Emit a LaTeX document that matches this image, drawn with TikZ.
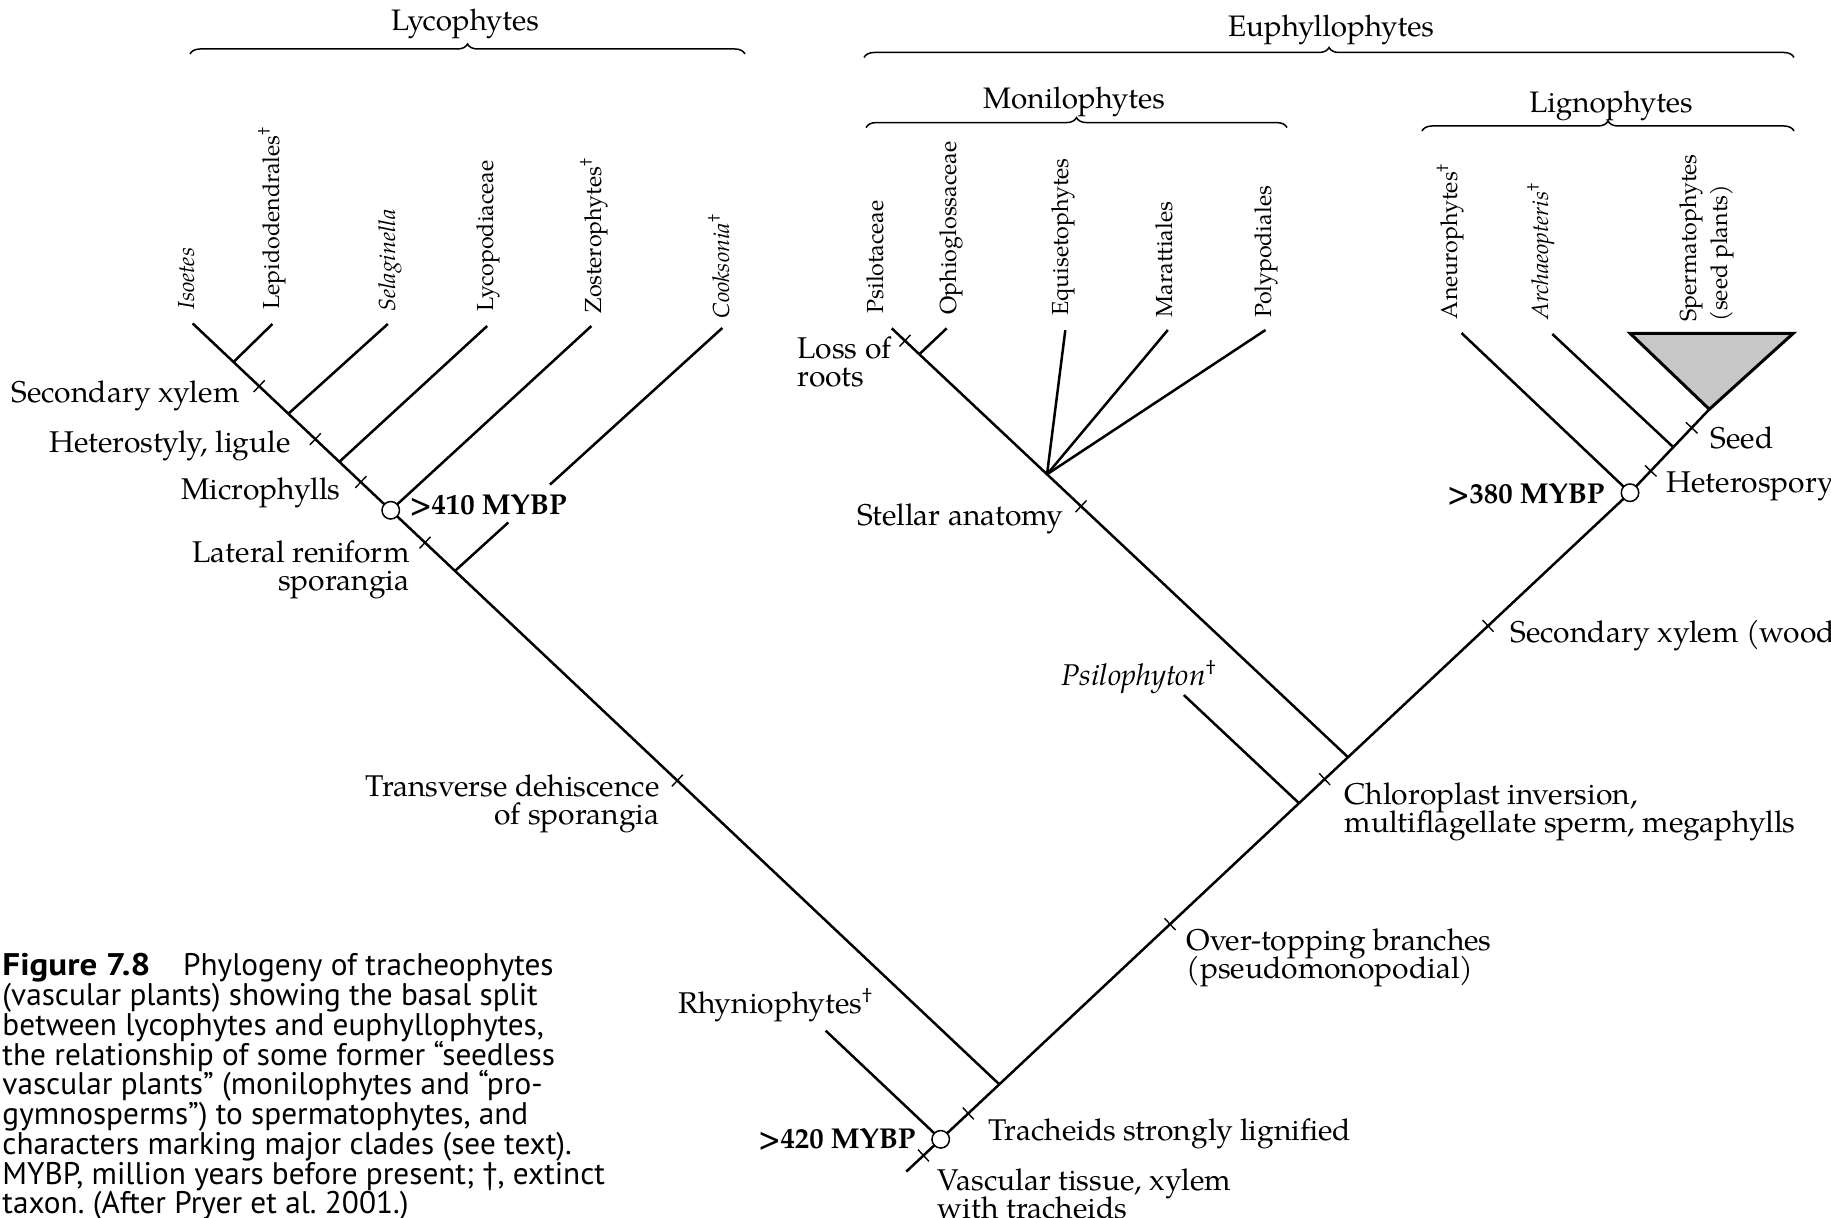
\documentclass[tikz,border=0pt]{standalone}
\usepackage{fontspec}
\setmainfont{TeX Gyre Pagella}
\newfontfamily\capfont{PT Sans}
\usetikzlibrary{calc,decorations.pathreplacing}

% short character mark across the branch from #1 to #2, at fraction #3
\newcommand\drawtick[3]{%
  \coordinate (tk) at ($(#1)!#3!(#2)$);
  \draw[tickmark] ($(tk)!3.2pt!90:(#2)$) -- ($(tk)!3.2pt!-90:(#2)$);
}
% keep a fixed line pitch in multi-line labels
\newcommand\fixedlead{\lineskiplimit -\maxdimen\relax\lineskip 0pt\relax}

\begin{document}
\begin{tikzpicture}[x=0.4pt,y=-0.4pt,
  branch/.style={line width=1pt},
  tickmark/.style={line width=0.55pt},
  mybp/.style={draw, circle, fill=white, line width=0.6pt, minimum size=7pt, inner sep=0pt},
  taxon/.style={rotate=90, anchor=west, inner sep=0pt, font=\fontsize{9.3}{12.5}\selectfont, text height=0.72em, text depth=0.22em},
  taxon2/.style={rotate=90, anchor=west, inner sep=0pt, align=left, font=\fontsize{9.3}{12.5}\selectfont},
  charlabel/.style={inner sep=0pt, font=\fontsize{12}{11.3}\selectfont, text height=0.7em, text depth=0.25em},
  mcharlabel/.style={inner sep=0pt, font=\fontsize{12}{11.3}\selectfont\fixedlead},
  clade/.style={inner sep=0pt, font=\fontsize{11.85}{13}\selectfont, text height=0.7em, text depth=0.25em},
  cladebrace/.style={decorate, decoration={brace, amplitude=4pt}, line width=0.6pt},
  age/.style={inner sep=0pt, font=\fontsize{11.5}{13}\selectfont\bfseries},
]
\useasboundingbox (0,0) rectangle (1831,1218);
\clip (0,0) rectangle (1831,1218);

% ---------- clade braces ----------
\draw[cladebrace] (190,54) -- (745,54);
\draw[cladebrace] (864,57.5) -- (1794,57.5);
\draw[cladebrace] (866,127.6) -- (1287,127.6);
\draw[cladebrace] (1422,131) -- (1794,131);
\node[clade] (cLyc) at (465,25) {Lycophytes};
\node[clade] (cEup) at (1331,30.5) {Euphyllophytes};
\node[clade] (cMon) at (1074,102.5) {Monilophytes};
\node[clade] (cLig) at (1611,107) {Lignophytes};

% ---------- backbone coordinates ----------
\coordinate (Liso) at (192.7,323.5);
\coordinate (C420pt) at (940.7,1139.3);
\coordinate (C380pt) at (1630,492.7);
\coordinate (Apex) at (1709.3,409.3);
\coordinate (Root) at ($(C420pt)!-0.05!(C380pt)$);
\coordinate (J1) at ($(C420pt)!0.085!(C380pt)$);
\coordinate (J2) at ($(C420pt)!0.5198!(C380pt)$);
\coordinate (J3) at ($(C420pt)!0.5909!(C380pt)$);
\coordinate (J5) at ($(C380pt)!0.546!(Apex)$);

% lycophyte branch points
\coordinate (LjLep) at ($(Liso)!0.0506!(J1)$);
\coordinate (LjSel) at ($(Liso)!0.1186!(J1)$);
\coordinate (LjLyc) at ($(Liso)!0.1818!(J1)$);
\coordinate (C410pt) at ($(Liso)!0.2455!(J1)$);
\coordinate (LjCoo) at ($(Liso)!0.3252!(J1)$);

% tips
\coordinate (tipLep) at (272.4,324);
\coordinate (tipSel) at (387.8,324);
\coordinate (tipLyc) at (487.2,326);
\coordinate (tipZos) at (591.4,326);
\coordinate (tipCoo) at (722.3,328);
\coordinate (tipRhy) at (825.7,1030.7);
\coordinate (tipPsl) at (891.7,328.3);
\coordinate (tipOph) at (946.7,328.3);
\coordinate (tipEqu) at (1065.3,330.2);
\coordinate (tipMar) at (1167.8,330);
\coordinate (tipPol) at (1265.5,330);
\coordinate (tipPsi) at (1183.8,695);
\coordinate (tipAne) at (1461.5,333);
\coordinate (tipArc) at (1552.3,334);
\coordinate (sTL) at (1630,333.3);
\coordinate (sTR) at (1793.3,333.3);

% monilophyte branch points
\coordinate (MjOph) at ($(tipPsl)!0.0605!(J3)$);
\coordinate (Mpoly) at ($(tipPsl)!0.3404!(J3)$);

% ---------- branches ----------
\draw[branch] (Liso) -- (J1);
\draw[branch] (Root) -- (C380pt) -- (Apex);
\draw[branch] (tipRhy) -- (C420pt);
\draw[branch] (tipLep) -- (LjLep);
\draw[branch] (tipSel) -- (LjSel);
\draw[branch] (tipLyc) -- (LjLyc);
\draw[branch] (tipZos) -- (C410pt);
\draw[branch] (tipCoo) -- ($(tipCoo)!0.6446!(LjCoo)$);
\draw[branch] ($(tipCoo)!0.8006!(LjCoo)$) -- (LjCoo);
\draw[branch] (tipPsl) -- (J3);
\draw[branch] (tipOph) -- (MjOph);
\draw[branch] (tipEqu) -- (Mpoly);
\draw[branch] (tipMar) -- (Mpoly);
\draw[branch] (tipPol) -- (Mpoly);
\draw[branch] (tipPsi) -- (J2);
\draw[branch] (tipAne) -- (C380pt);
\draw[branch] (tipArc) -- (J5);
\draw[line width=1.2pt, fill=black!22, line join=miter] (Apex) -- (sTL) -- (sTR) -- cycle;

% ---------- character marks ----------
\drawtick{Liso}{J1}{0.0824}
\drawtick{Liso}{J1}{0.152}
\drawtick{Liso}{J1}{0.2084}
\drawtick{Liso}{J1}{0.288}
\drawtick{Liso}{J1}{0.6008}
\drawtick{C420pt}{C380pt}{-0.025}
\drawtick{C420pt}{C380pt}{0.040}
\drawtick{C420pt}{C380pt}{0.3327}
\drawtick{C420pt}{C380pt}{0.557}
\drawtick{C420pt}{C380pt}{0.794}
\drawtick{tipPsl}{J3}{0.029}
\drawtick{tipPsl}{J3}{0.4149}
\drawtick{C380pt}{Apex}{0.261}
\drawtick{C380pt}{Apex}{0.778}

% ---------- dated nodes ----------
\node[mybp] (n410) at (C410pt) {};
\node[mybp] (n420) at (C420pt) {};
\node[mybp] (n380) at (C380pt) {};

% ---------- taxon names ----------
\node[taxon] (tIso) at (188,310) {\textit{Isoetes}};
\node[taxon] (tLep) at (273,310) {Lepidodendrales\textsuperscript{\textdagger}};
\node[taxon] (tSel) at (389,312) {\textit{Selaginella}};
\node[taxon] (tLyc) at (487,312) {Lycopodiaceae};
\node[taxon] (tZos) at (595,314) {Zosterophytes\textsuperscript{\textdagger}};
\node[taxon] (tCoo) at (723,319) {\textit{Cooksonia}\textsuperscript{\textdagger}};
\node[taxon] (tPsl) at (877.5,314) {Psilotaceae};
\node[taxon] (tOph) at (950,315) {Ophioglossaceae};
\node[taxon] (tEqu) at (1062.6,316) {Equisetophytes};
\node[taxon] (tMar) at (1166.4,317.5) {Marattiales};
\node[taxon] (tPol) at (1265.5,318) {Polypodiales};
\node[taxon] (tAne) at (1451.3,319.5) {Aneurophytes\textsuperscript{\textdagger}};
\node[taxon] (tArc) at (1542,320) {\textit{Archaeopteris}\textsuperscript{\textdagger}};
\node[taxon2] (tSpe) at (1707,322) {Spermatophytes\\(seed plants)};

% ---------- characters and ages ----------
\node[charlabel, anchor=east] (lSecX) at (240,397) {Secondary xylem};
\node[charlabel, anchor=east] (lHet) at (291,447) {Heterostyly, ligule};
\node[charlabel, anchor=east] (lMic) at (341,494) {Microphylls};
\node[mcharlabel, anchor=east, align=right] (lLat) at (410,570) {Lateral reniform\\sporangia};
\node[mcharlabel, anchor=east, align=right] (lTra) at (660,804) {Transverse dehiscence\\of sporangia};
\node[age, anchor=west] (a410) at (409,505) {>410 MYBP};
\node[charlabel, anchor=west] (lRhy) at (678,1008) {Rhyniophytes\textsuperscript{\textdagger}};
\node[age, anchor=east] (a420) at (916,1139) {>420 MYBP};
\node[charlabel, anchor=west] (lTrac) at (988,1135) {Tracheids strongly lignified};
\node[mcharlabel, anchor=west, align=left] (lVas) at (937,1194) {Vascular tissue, xylem\\with tracheids};
\node[mcharlabel, anchor=west, align=left] (lOver) at (1186,958) {Over-topping branches\\(pseudomonopodial)};
\node[mcharlabel, anchor=west, align=left] (lChl) at (1344,812) {Chloroplast inversion,\\multiflagellate sperm, megaphylls};
\node[charlabel, anchor=west] (lPsi) at (1061,680) {\textit{Psilophyton}\textsuperscript{\textdagger}};
\node[charlabel, anchor=west] (lSecW) at (1510,637) {Secondary xylem (wood)};
\node[charlabel, anchor=east] (lSte) at (1064,520) {Stellar anatomy};
\node[mcharlabel, anchor=west, align=left] (lLoss) at (797,362) {Loss of\\roots};
\node[age, anchor=east] (a380) at (1605,494) {>380 MYBP};
\node[charlabel, anchor=west] (lHsp) at (1666,487) {Heterospory};
\node[charlabel, anchor=west] (lSeed) at (1710,443) {Seed};

% ---------- caption ----------
\node[anchor=north west, align=left, inner sep=0pt,
      font=\capfont\fontsize{12.5}{11.9}\selectfont\fixedlead\frenchspacing] (caption) at (2,953)
  {\scalebox{1.12}[1]{\textbf{Figure 7.8}}\hspace{1.05em}Phylogeny of tracheophytes\\
   (vascular plants) showing the basal split\\
   between lycophytes and euphyllophytes,\\
   the relationship of some former “seedless\\
   vascular plants” (monilophytes and “pro-\\
   gymnosperms”) to spermatophytes, and\\
   characters marking major clades (see text).\\
   MYBP, million years before present; †, extinct\\
   taxon. (After Pryer et al. 2001.)};
\end{tikzpicture}
\end{document}
